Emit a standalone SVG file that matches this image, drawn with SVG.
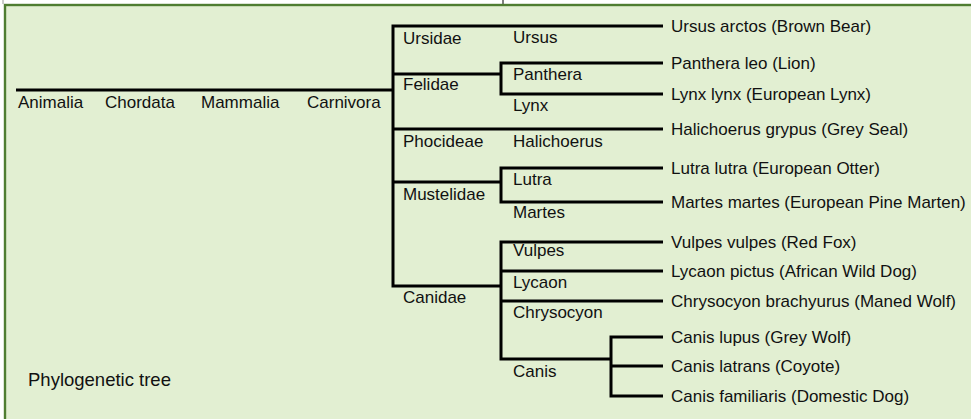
<svg xmlns="http://www.w3.org/2000/svg" width="971" height="419" viewBox="0 0 971 419">
<style>
.t{font-family:"Liberation Sans",Arial,sans-serif;font-size:17px;fill:#111}
.cap{font-family:"Liberation Sans",Arial,sans-serif;font-size:18.5px;fill:#111}
.br{fill:none;stroke:#000;stroke-width:3;stroke-linejoin:miter}
</style>
<rect x="0" y="0" width="971" height="419" fill="#ffffff"/>
<line x1="3" y1="0" x2="3" y2="4" stroke="#9a9a9a" stroke-width="1"/>
<line x1="503" y1="0" x2="503" y2="4" stroke="#555" stroke-width="1.5"/>
<rect id="panel" x="5" y="5" width="1000" height="500" fill="#e2efd2" stroke="#4f7d31" stroke-width="2.4"/>
<g id="connectors" class="br">
<path d="M16 90 H393"/>
<path d="M663 26 H393 V286 H501"/>
<path d="M393 74 H501"/>
<path d="M663 63 H501 V94 H663"/>
<path d="M393 129 H663"/>
<path d="M393 182 H501"/>
<path d="M663 168 H501 V202 H663"/>
<path d="M663 242 H501 V359 H611"/>
<path d="M501 271 H663"/>
<path d="M501 301 H663"/>
<path d="M663 337 H611 V396 H663"/>
<path d="M611 366 H663"/>
</g>
<g id="animalia"><text class="t" x="18" y="108">Animalia</text></g>
<g id="chordata"><text class="t" x="105" y="108">Chordata</text></g>
<g id="mammalia"><text class="t" x="201" y="108">Mammalia</text></g>
<g id="carnivora"><text class="t" x="307" y="108">Carnivora</text></g>
<g id="ursidae"><text class="t" x="403" y="44">Ursidae</text></g>
<g id="felidae"><text class="t" x="403" y="90">Felidae</text></g>
<g id="phocideae"><text class="t" x="403" y="147">Phocideae</text></g>
<g id="mustelidae"><text class="t" x="403" y="200">Mustelidae</text></g>
<g id="canidae"><text class="t" x="403" y="303">Canidae</text></g>
<g id="ursus"><text class="t" x="513" y="43">Ursus</text></g>
<g id="panthera"><text class="t" x="513" y="80">Panthera</text></g>
<g id="lynx"><text class="t" x="513" y="111">Lynx</text></g>
<g id="halichoerus"><text class="t" x="513" y="147">Halichoerus</text></g>
<g id="lutra"><text class="t" x="513" y="185">Lutra</text></g>
<g id="martes"><text class="t" x="513" y="218">Martes</text></g>
<g id="vulpes"><text class="t" x="513" y="256">Vulpes</text></g>
<g id="lycaon"><text class="t" x="513" y="288">Lycaon</text></g>
<g id="chrysocyon"><text class="t" x="513" y="318">Chrysocyon</text></g>
<g id="canis"><text class="t" x="513" y="377">Canis</text></g>
<g id="sp-ursus-arctos"><text class="t" x="671" y="32">Ursus arctos (Brown Bear)</text></g>
<g id="sp-panthera-leo"><text class="t" x="671" y="69">Panthera leo (Lion)</text></g>
<g id="sp-lynx-lynx"><text class="t" x="671" y="100">Lynx lynx (European Lynx)</text></g>
<g id="sp-halichoerus-grypus"><text class="t" x="671" y="135">Halichoerus grypus (Grey Seal)</text></g>
<g id="sp-lutra-lutra"><text class="t" x="671" y="174">Lutra lutra (European Otter)</text></g>
<g id="sp-martes-martes"><text class="t" x="671" y="208">Martes martes (European Pine Marten)</text></g>
<g id="sp-vulpes-vulpes"><text class="t" x="671" y="248">Vulpes vulpes (Red Fox)</text></g>
<g id="sp-lycaon-pictus"><text class="t" x="671" y="277">Lycaon pictus (African Wild Dog)</text></g>
<g id="sp-chrysocyon-brachyurus"><text class="t" x="671" y="307">Chrysocyon brachyurus (Maned Wolf)</text></g>
<g id="sp-canis-lupus"><text class="t" x="671" y="343">Canis lupus (Grey Wolf)</text></g>
<g id="sp-canis-latrans"><text class="t" x="671" y="372">Canis latrans (Coyote)</text></g>
<g id="sp-canis-familiaris"><text class="t" x="671" y="402">Canis familiaris (Domestic Dog)</text></g>
<g id="title"><text class="cap" x="28" y="386">Phylogenetic tree</text></g>
</svg>
